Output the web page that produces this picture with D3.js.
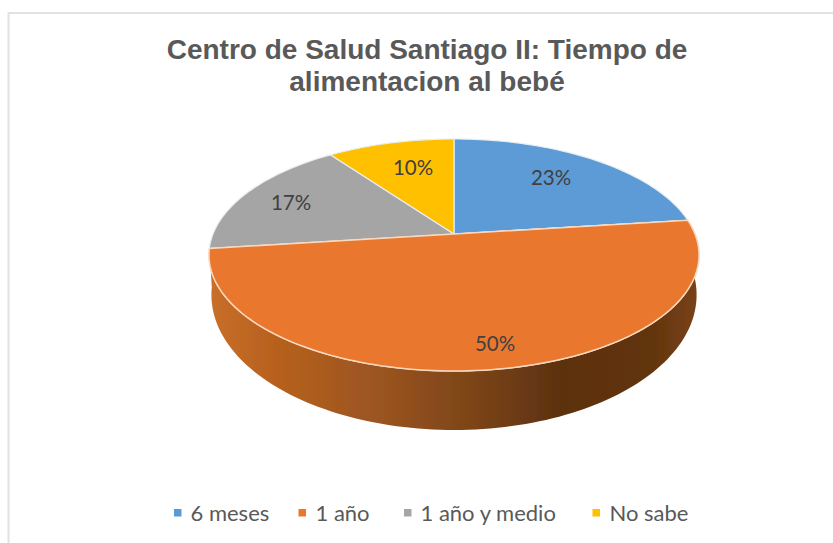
<!DOCTYPE html>
<html><head><meta charset="utf-8">
<script src="https://cdn.jsdelivr.net/npm/d3@7"></script>
<style>html,body{margin:0;padding:0;background:#fff}svg{display:block}</style></head>
<body><svg id="c" width="833" height="543"></svg>
<script>
const categories = ["6 meses", "1 año", "1 año y medio", "No sabe"];
const values = [23, 50, 17, 10];
const colors = ["#5b9bd5", "#e9782d", "#a5a5a5", "#ffc000"];
const titleLines = ["Centro de Salud Santiago II: Tiempo de", "alimentacion al bebé"];

const svg = d3.select("#c");
const defs = svg.append("defs");
const grad = defs.append("linearGradient").attr("id","wall");
[[0,"#c96f2a"],[0.12,"#b9621f"],[0.35,"#9a5420"],[0.55,"#7a4317"],[0.72,"#5c3110"],[0.9,"#62340f"],[1,"#7a4316"]]
  .forEach(([o,c])=>grad.append("stop").attr("offset",o).attr("stop-color",c));
defs.append("filter").attr("id","soft").append("feGaussianBlur").attr("stdDeviation",0.5);

// frame
svg.append("path").attr("d","M8.5,543V13H833").attr("fill","none").attr("stroke","#e2e2e2").attr("stroke-width",2);

// title
svg.append("g").selectAll("text").data(titleLines).join("text")
  .attr("x",427).attr("y",(d,i)=>59+i*32)
  .attr("text-anchor","middle").attr("font-family","Liberation Sans").attr("font-weight","bold")
  .attr("font-size",28).attr("fill","#595959").text(d=>d);

// perspective projection of the pie disc
const cx=454, cy=234, persp=-0.181, bx=241, by=112.2;
const lowDrop=36.5, lowSx=0.99, lowSy=1.164;
function project(a, low=false){
  const u=Math.sin(a), v=-Math.cos(a), w=1+persp*v;
  return low ? [cx+lowSx*bx*u/w, cy+lowDrop+lowSy*by*v/w] : [cx+bx*u/w, cy+by*v/w];
}
function arcPts(a0,a1,low=false){
  const n=Math.max(2,Math.ceil((a1-a0)*40)), out=[];
  for(let i=0;i<=n;i++) out.push(project(a0+(a1-a0)*i/n,low));
  return out;
}
const line=d3.line();
const arcs=d3.pie().sort(null).value(d=>d)(values);
const pieG=svg.append("g").attr("filter","url(#soft)");

// wall below the orange slice
const o=arcs[1];
pieG.append("path").attr("d",line(arcPts(o.startAngle,o.endAngle).concat(arcPts(o.startAngle,o.endAngle,true).reverse()))+"Z").attr("fill","url(#wall)");

// top faces
const sector=d=>line([[cx,cy],...arcPts(d.startAngle,d.endAngle)])+"Z";
pieG.append("g").selectAll("path").data(arcs).join("path")
  .attr("d",sector).attr("fill",(d,i)=>colors[i])
  .attr("stroke","#e8eef2").attr("stroke-width",1.2).attr("stroke-linejoin","round");
pieG.append("path").attr("d",sector(o)).attr("fill",colors[1]).attr("stroke","#fbd8bd").attr("stroke-width",1.5).attr("stroke-linejoin","round");

// data labels
const labelX=[551,495,291,413], labelY=[185,351,210,175];
svg.append("g").selectAll("text").data(values).join("text")
  .attr("x",(d,i)=>labelX[i]).attr("y",(d,i)=>labelY[i])
  .attr("text-anchor","middle").attr("font-family","Lato").attr("font-size",20.5).attr("fill","#404040")
  .text(d=>d+"%");

// legend
const legendX=[174,298.5,404,592.5], textX=[190.5,315.5,420.5,609.5];
const lg=svg.append("g").selectAll("g").data(categories).join("g");
lg.append("rect").attr("x",(d,i)=>legendX[i]).attr("y",509).attr("width",7.5).attr("height",7.5).attr("fill",(d,i)=>colors[i]);
lg.append("text").attr("x",(d,i)=>textX[i]).attr("y",520.5).attr("font-family","Lato").attr("font-size",22).attr("fill","#595959").text(d=>d);
</script></body></html>
